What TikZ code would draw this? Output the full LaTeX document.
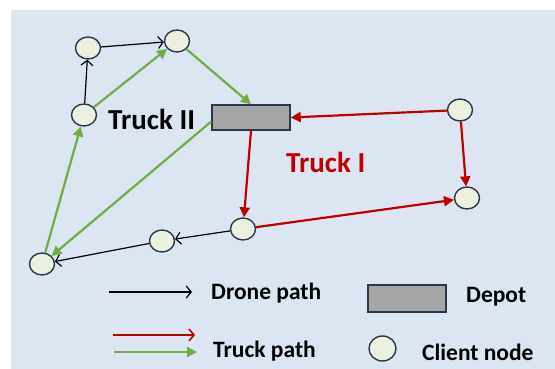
\documentclass[tikz,border=0pt]{standalone}
\usepackage{fontspec}
\setmainfont{Carlito}
\usetikzlibrary{arrows.meta,shapes.geometric}
\definecolor{panel}{RGB}{220,230,242}
\definecolor{clientfill}{RGB}{235,241,222}
\definecolor{edgeline}{RGB}{40,55,75}
\definecolor{depotfill}{RGB}{166,166,166}
\definecolor{truckred}{RGB}{192,0,0}
\definecolor{truckgreen}{RGB}{112,173,71}
\tikzset{
  client/.style={ellipse, draw=edgeline, line width=1.4pt, fill=clientfill,
    minimum width=25pt, minimum height=22pt, inner sep=0pt},
  depotbox/.style={rectangle, draw=edgeline, line width=1.4pt, fill=depotfill,
    minimum width=78pt, minimum height=25pt, inner sep=0pt},
  drone/.style={draw=black, line width=1.2pt, -{Straight Barb[length=5pt,width=12pt,line width=1.2pt]}},
  redtruck/.style={draw=truckred, line width=2.2pt, -{Triangle[length=10pt,width=10pt]}},
  greentruck/.style={draw=truckgreen, line width=2.2pt, -{Triangle[length=10pt,width=10pt]}},
  bigtag/.style={inner sep=0pt, anchor=base west, font=\bfseries\fontsize{29}{31}\selectfont},
  legtag/.style={inner sep=0pt, anchor=base west, font=\bfseries\fontsize{23.5}{25}\selectfont},
}
\begin{document}
\begin{tikzpicture}[x=1pt, y=-1pt]
\useasboundingbox (0,0) rectangle (555,369);
\fill[panel] (11,10) rectangle (555,369);

% client nodes
\node[client] (A) at (88,48) {};
\node[client] (B) at (177,41) {};
\node[client] (C) at (84,115) {};
\node[client] (D) at (42,264) {};
\node[client] (E) at (162,241) {};
\node[client] (F) at (243,229) {};
\node[client] (G) at (460,110) {};
\node[client] (H) at (467,198) {};

% depot
\node[depotbox] (depot) at (251,117.5) {};

% route labels
\node[bigtag] (t2) at (108,129) {Truck II};
\node[bigtag, text=truckred] (t1) at (286,172) {Truck I};

% drone paths
\draw[drone] (C) -- (A);
\draw[drone] (A) -- (B);
\draw[drone] (F) -- (E);
\draw[drone] (E) -- (D);

% truck II route
\draw[greentruck] (C) -- (B);
\draw[greentruck] (B) -- (depot.north);
\draw[greentruck] ([yshift=-4pt]depot.west) -- (D);
\draw[greentruck] (D) -- (C);

% truck I route
\draw[redtruck] (G) -- (depot.east);
\draw[redtruck] (depot.south) -- (F);
\draw[redtruck] (F) -- (H);
\draw[redtruck] (G) -- (H);

% legend
\coordinate (l1a) at (109,292);
\coordinate (l1b) at (192,292);
\coordinate (l2a) at (113,335);
\coordinate (l2b) at (195,335);
\coordinate (l3a) at (114,352);
\coordinate (l3b) at (197,352);
\draw[drone] (l1a) -- (l1b);
\draw[draw=truckred, line width=1.6pt, -{Straight Barb[length=5pt,width=12pt,line width=1.6pt]}] (l2a) -- (l2b);
\draw[greentruck] (l3a) -- (l3b);
\node[legtag] (ldrone) at (211,299) {Drone path};
\node[legtag] (ltruck) at (213,357) {Truck path};
\node[depotbox, minimum height=27pt] (ldepot) at (407,298.5) {};
\node[legtag] (ldepottxt) at (466,302) {Depot};
\node[client, minimum width=27pt, minimum height=25pt] (lclient) at (382.5,348.5) {};
\node[legtag] (lclienttxt) at (422,360) {Client node};
\end{tikzpicture}
\end{document}
